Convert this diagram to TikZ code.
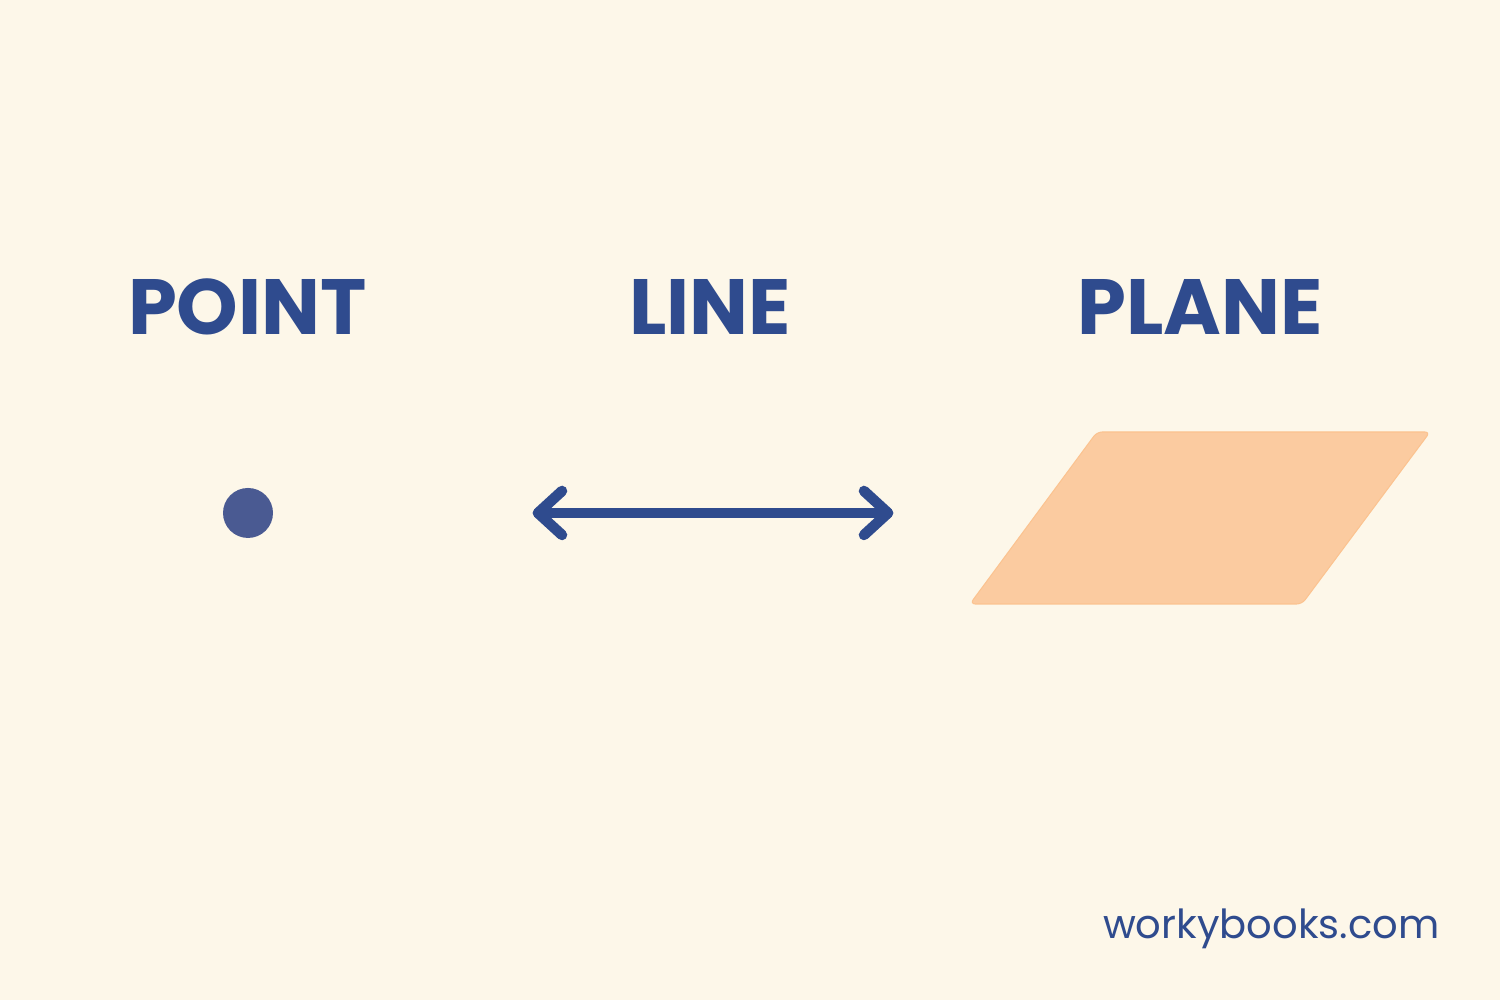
\documentclass[tikz,border=0pt]{standalone}
\usepackage{fontspec}
\setmainfont{Poppins}
\usetikzlibrary{calc}
\definecolor{bgc}{HTML}{FDF7E9}
\definecolor{navy}{HTML}{2F4B8E}
\definecolor{dotc}{HTML}{4A5A92}
\definecolor{planec}{HTML}{FBCBA0}
\begin{document}
\begin{tikzpicture}[
  title/.style={text=navy, font=\fontsize{22.3}{26}\selectfont\bfseries, inner sep=0pt},
  wm/.style={text=navy, font=\fontsize{11.4}{14}\selectfont, inner sep=0pt},
  stroke/.style={draw=navy, line width=3pt, line cap=round, line join=round}
]
\fill[bgc] (0,0) rectangle (15,10);
\useasboundingbox (0,0) rectangle (15,10);

\node[title] (tpoint) at (2.475,6.93) {POINT};
\node[title] (tline) at (7.10,6.93) {LINE};
\node[title] (tplane) at (12.00,6.93) {PLANE};

\fill[dotc] (2.48,4.87) circle (0.25);
\node[inner sep=0pt, minimum size=0.5cm] (dot) at (2.48,4.87) {};

\coordinate (la) at (5.38,4.87);
\coordinate (lb) at (8.88,4.87);
\draw[stroke] (la) -- (lb);
\draw[stroke] ($(la)+(0.24,0.22)$) -- (la) -- ($(la)+(0.24,-0.22)$);
\draw[stroke] ($(lb)+(-0.24,0.22)$) -- (lb) -- ($(lb)+(-0.24,-0.22)$);

\fill[planec, draw=planec!90!orange, line width=0.3pt, rounded corners=1.5pt]
  (10.97,5.68) -- (14.30,5.68) -- (13.02,3.96) -- (9.70,3.96) -- cycle;

\node[wm, anchor=east] (wmark) at (14.40,0.71) {workybooks.com};
\end{tikzpicture}
\end{document}
